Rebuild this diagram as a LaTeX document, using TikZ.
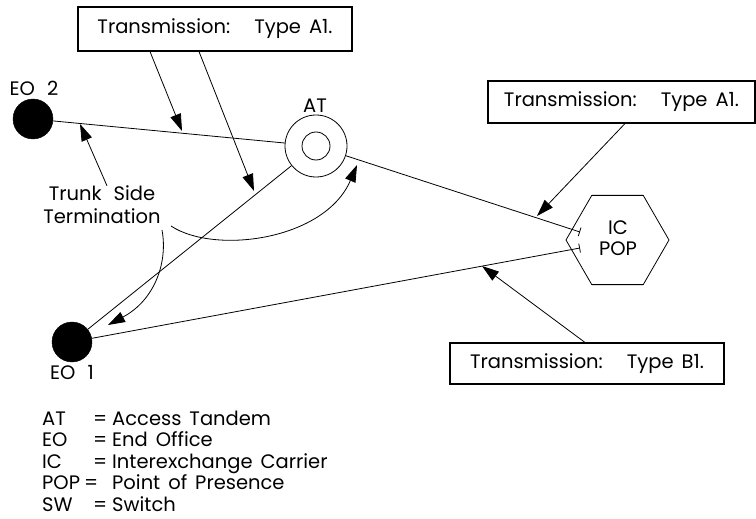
\documentclass[tikz,border=0pt]{standalone}
\usepackage{fontspec}
\setmainfont{Poppins}
\usetikzlibrary{arrows.meta,shapes.geometric}
\tikzset{
  lbl/.style={inner sep=0pt, font=\fontsize{19.5}{23}\selectfont},
  tbox/.style={draw, line width=1.1pt, inner sep=0pt, font=\fontsize{19.5}{23}\selectfont},
  eodot/.style={circle, fill=black, draw=black, minimum size=40pt, inner sep=0pt},
  link/.style={line width=0.8pt},
  callout/.style={line width=0.8pt, -{Triangle[length=17pt,width=11pt]}},
  barend/.style={line width=0.8pt, -{Bar[width=9pt,line width=0.8pt]}}
}
\begin{document}
\begin{tikzpicture}[x=1pt,y=-1pt]
\path[use as bounding box] (0,0) rectangle (756,519);
% boxes
\node[tbox, minimum width=274pt, minimum height=44pt] (box1) at (215,29) {Transmission:\hspace{24pt}Type\hspace{8pt}A1.};
\node[tbox, minimum width=267pt, minimum height=42pt] (box2) at (621.5,102) {Transmission:\hspace{24pt}Type\hspace{8pt}A1.};
\node[tbox, minimum width=274pt, minimum height=41pt] (box3) at (587,363.5) {Transmission:\hspace{24pt}Type\hspace{8pt}B1.};
% nodes
\node[eodot] (eo2) at (33,119) {};
\node[lbl] (eo2l) at (34,88) {EO\hspace{12pt}2};
\node[eodot] (eo1) at (72,342) {};
\node[lbl] (eo1l) at (72,373) {EO\hspace{12pt}1};
\node[circle, draw, line width=0.8pt, minimum size=62pt, inner sep=0pt] (at) at (316,146) {};
\node[circle, draw, line width=0.8pt, minimum size=28pt, inner sep=0pt] (atin) at (316,146) {};
\node[lbl] (atl) at (315,106) {AT};
\node[regular polygon, regular polygon sides=6, draw, line width=0.8pt, minimum size=103pt, inner sep=0pt] (ic) at (617.5,240) {};
\node[lbl, align=center, font=\fontsize{19.5}{21}\selectfont] (icl) at (618,238) {IC\\POP};
\coordinate (icA) at (580,232);
\coordinate (icB) at (580,248);
% links
\draw[link] (eo2) -- (at);
\draw[link] (at) -- (eo1);
\draw[barend] (at) -- (icA);
\draw[barend] (eo1) -- (icB);
% callouts
\coordinate (t1) at (182,131);
\coordinate (t2) at (254,191);
\coordinate (t4) at (537,216);
\coordinate (t5) at (482,266);
\draw[callout] ([xshift=-65pt]box1.south) -- (t1);
\draw[callout] ([xshift=-16pt]box1.south) -- (t2);
\draw[callout] ([xshift=3.5pt]box2.south) -- (t4);
\draw[callout] ([xshift=-2pt]box3.north) -- (t5);
% trunk side termination
\node[lbl, align=center, font=\fontsize{19.5}{23}\selectfont] (trunk) at (102,205) {Trunk\hspace{12pt}Side\\Termination};
\coordinate (t3) at (80,124);
\draw[callout] ([xshift=5pt]trunk.north) -- (t3);
\coordinate (c1s) at (171,226);
\coordinate (c1e) at (357,165);
\coordinate (c2s) at (162,230);
\coordinate (c2e) at (108,325);
\draw[callout] (c1s) .. controls (215,255) and (325,240) .. (c1e);
\draw[callout] (c2s) .. controls (168,262) and (155,300) .. (c2e);
% legend
\node[lbl, anchor=base west] (lga1) at (42,425) {AT};
\node[lbl, anchor=base west] (lge1) at (93,425) {=};
\node[lbl, anchor=base west] (lgt1) at (112,425) {Access\hspace{8pt}Tandem};
\node[lbl, anchor=base west] (lga2) at (42,446.5) {EO};
\node[lbl, anchor=base west] (lge2) at (93,446.5) {=};
\node[lbl, anchor=base west] (lgt2) at (112,446.5) {End\hspace{8pt}Office};
\node[lbl, anchor=base west] (lga3) at (42,468) {IC};
\node[lbl, anchor=base west] (lge3) at (93,468) {=};
\node[lbl, anchor=base west] (lgt3) at (112,468) {Interexchange\hspace{8pt}Carrier};
\node[lbl, anchor=base west] (lga4) at (42,489.5) {POP};
\node[lbl, anchor=base west] (lge4) at (84,489.5) {=};
\node[lbl, anchor=base west] (lgt4) at (112,489.5) {Point\hspace{8pt}of\hspace{8pt}Presence};
\node[lbl, anchor=base west] (lga5) at (42,511) {SW};
\node[lbl, anchor=base west] (lge5) at (93,511) {=};
\node[lbl, anchor=base west] (lgt5) at (112,511) {Switch};
\end{tikzpicture}
\end{document}
